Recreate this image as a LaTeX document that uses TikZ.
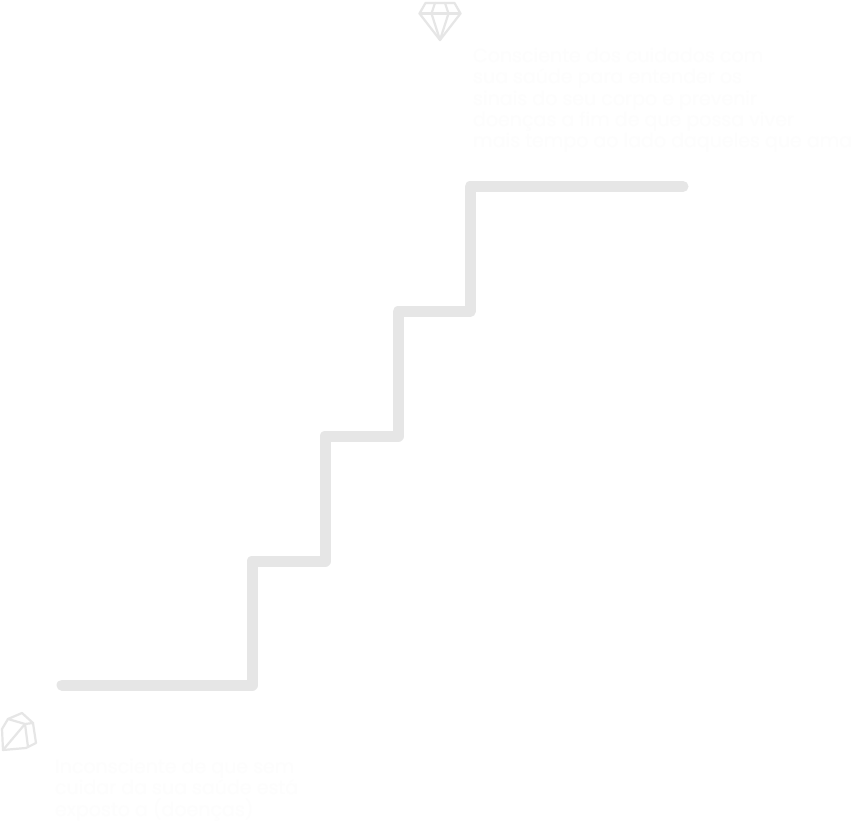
\documentclass[tikz,border=0pt]{standalone}
\usepackage{fontspec}
\setmainfont{Poppins}
\definecolor{stairgray}{HTML}{E6E6E6}
\definecolor{faint}{HTML}{FDFDFD}
\tikzset{
  stair/.style={draw=stairgray,line width=11pt,line cap=round,line join=round},
  glyph/.style={draw=stairgray,line width=2.2pt,line join=round,line cap=round},
  caption/.style={text=faint,anchor=north west,inner sep=0pt,align=left,font=\fontsize{19pt}{21.2pt}\selectfont}
}
\begin{document}
\begin{tikzpicture}[x=1pt,y=-1pt]
\useasboundingbox (0,0) rectangle (855,821);
\fill[white] (0,0) rectangle (855,821);
% stairs
\coordinate (s0) at (62,685);
\coordinate (s1) at (252,685);
\coordinate (s2) at (252,561);
\coordinate (s3) at (325,561);
\coordinate (s4) at (325,436);
\coordinate (s5) at (398,436);
\coordinate (s6) at (398,311.5);
\coordinate (s7) at (470,311.5);
\coordinate (s8) at (470,186.5);
\coordinate (s9) at (683,186.5);
\draw[stair] (s0) -- (s1) -- (s2) -- (s3) -- (s4) -- (s5) -- (s6) -- (s7) -- (s8) -- (s9);
% diamond
\draw[glyph] (425.5,3) -- (454.5,3) -- (460.5,13.5) -- (440,40) -- (419.5,13.5) -- cycle;
\draw[glyph] (419.5,13.5) -- (460.5,13.5);
\draw[glyph] (435,3) -- (431.5,13.5) -- (440,40) -- (448.5,13.5) -- (445,3);
% rock
\draw[glyph] (2,729) -- (8,719) -- (22,713) -- (33,723) -- (36,743) -- (26,748) -- (3,750) -- cycle;
\draw[glyph] (8,719) -- (25,724) -- (33,723);
\draw[glyph] (25,724) -- (3,750);
\draw[glyph] (25,724) -- (28,747);
% texts
\node[caption] (top) at (473,48) {Consciente dos cuidados com\\sua saúde para entender os\\sinais do seu corpo e prevenir\\doenças a fim de que possa viver\\mais tempo ao lado daqueles que ama};
\node[caption] (bottom) at (55,759) {Inconsciente de que sem\\cuidar da sua saúde está\\exposto a (doenças)};
\end{tikzpicture}
\end{document}
